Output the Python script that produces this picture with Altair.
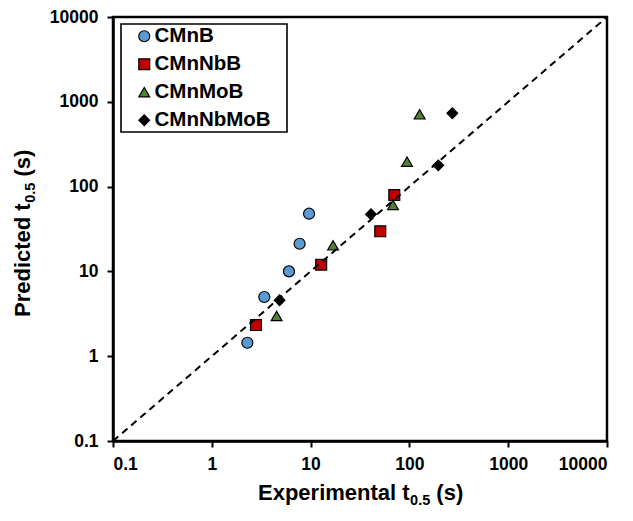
import altair as alt
import pandas as pd

FONT = "Liberation Sans"

series = ["CMnB", "CMnNbB", "CMnMoB", "CMnNbMoB"]
cmnb_x = [2.29, 3.40, 6.04, 7.74, 9.64]
cmnb_y = [1.44, 4.99, 10.0, 21.2, 47.9]
cmnnbb_x = [2.80, 12.8, 50.7, 70.3]
cmnnbb_y = [2.33, 12.0, 29.7, 79.6]
cmnmob_x = [4.53, 16.9, 68.2, 94.6, 127]
cmnmob_y = [2.98, 20.3, 60.7, 197, 712]
cmnnbmob_x = [4.85, 40.8, 196, 272]
cmnnbmob_y = [4.56, 47.1, 178, 732]

ticks = [0.1, 1, 10, 100, 1000, 10000]
line_ends = [0.1, 10000]

colors = ["#5B9BD5", "#C00000", "#548235", "#000000"]
shapes = ["circle", "square", "triangle-up", "diamond"]
sizes = [121, 115, 144, 169]

rows = []
for name, xs, ys in zip(series,
                        [cmnb_x, cmnnbb_x, cmnmob_x, cmnnbmob_x],
                        [cmnb_y, cmnnbb_y, cmnmob_y, cmnnbmob_y]):
    for xv, yv in zip(xs, ys):
        rows.append({"series": name, "x": xv, "y": yv})
df = pd.DataFrame(rows)
line_df = pd.DataFrame({"x": line_ends, "y": line_ends})

W, H = 494, 424

xscale = alt.Scale(type="log", domain=[0.1, 10000], nice=False)
yscale = alt.Scale(type="log", domain=[0.1, 10000], nice=False)

leg = alt.Legend(
    title=None, orient="none", legendX=7, legendY=5,
    padding=4, rowPadding=7,
    symbolOffset=10, labelOffset=0,
    labelFont=FONT, labelFontSize=20.5, labelFontWeight="bold", labelColor="black",
    symbolStrokeColor="black", symbolStrokeWidth=1.2,
)

# legend frame (box behind the legend entries)
legend_box = alt.Chart(pd.DataFrame({"k": [0]})).mark_rect(
    fill="white", stroke="black", strokeWidth=1.6
).encode(x=alt.value(8), x2=alt.value(174), y=alt.value(7), y2=alt.value(115))

points = alt.Chart(df).mark_point(filled=True, stroke="black", strokeWidth=1.2, opacity=1).encode(
    x=alt.X("x:Q", scale=xscale, axis=alt.Axis(values=ticks, format="~g", title=None)),
    y=alt.Y("y:Q", scale=yscale, axis=alt.Axis(values=ticks, format="~g", title=None)),
    color=alt.Color("series:N", scale=alt.Scale(domain=series, range=colors), legend=leg),
    shape=alt.Shape("series:N", scale=alt.Scale(domain=series, range=shapes), legend=leg),
    size=alt.Size("series:N", scale=alt.Scale(domain=series, range=sizes), legend=leg),
)

line = alt.Chart(line_df).mark_line(color="black", strokeWidth=2, strokeDash=[7, 5]).encode(
    x=alt.X("x:Q", scale=xscale),
    y=alt.Y("y:Q", scale=yscale),
)

def txt(s, x, y, size, angle=0):
    return alt.Chart(pd.DataFrame({"t": [s]})).mark_text(
        align="left", baseline="alphabetic", font=FONT, fontSize=size,
        fontWeight="bold", color="black", angle=angle,
    ).encode(x=alt.value(x), y=alt.value(y), text="t:N")

FS, SUB = 22, 14.5
main_x_w = 6.891 * FS      # "Experimental t"
main_y_w = 5.168 * FS      # "Predicted t"
sub_w = 1.39 * SUB         # "0.5"
space_w = 0.278 * FS

# x title pieces
x0, yb = 145, 483
xt = [txt("Experimental t", x0, yb, FS),
      txt("0.5", x0 + main_x_w + 0.5, yb + 5, SUB),
      txt("(s)", x0 + main_x_w + sub_w + space_w + 0.5, yb, FS)]
# y title pieces (rotated)
yx, y0 = -83.4, 300
yt = [txt("Predicted t", yx, y0, FS, 270),
      txt("0.5", yx + 5, y0 - main_y_w - 0.5, SUB, 270),
      txt("(s)", yx, y0 - main_y_w - sub_w - space_w - 0.5, FS, 270)]

chart = alt.layer(legend_box, points, line, *xt, *yt).properties(
    width=W, height=H,
    autosize=alt.AutoSizeParams(type="none"),
    padding={"left": 105, "top": 9, "right": 18, "bottom": 72},
).configure_axis(
    domainColor="black", domainWidth=2.5, tickColor="black", tickWidth=2,
    tickSize=6, labelFont=FONT, labelFontSize=17.5, labelFontWeight="bold",
    labelColor="black", grid=False,
).configure_axisX(labelPadding=8).configure_axisY(labelPadding=9).configure_view(
    stroke="black", strokeWidth=2.5
)

chart.save("out.html", embed_options={"renderer": "svg", "actions": False})
